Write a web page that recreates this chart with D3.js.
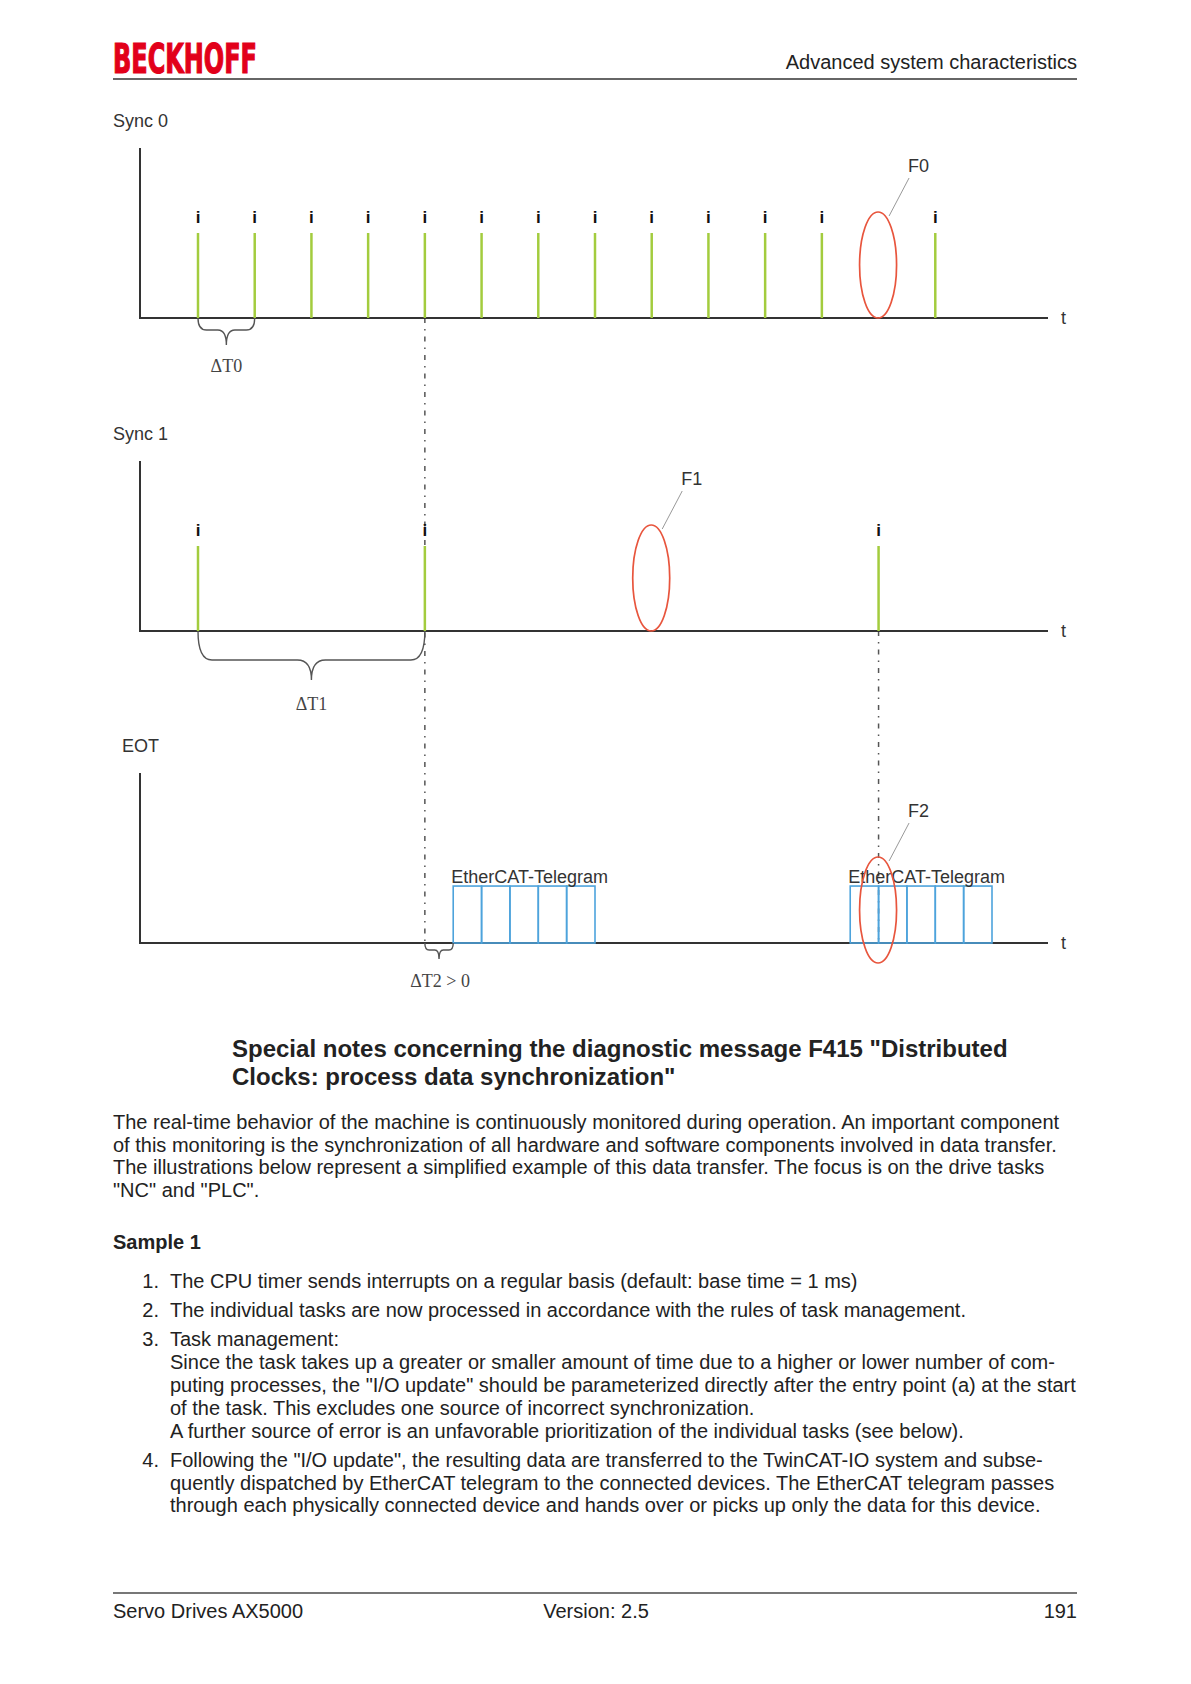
<!DOCTYPE html>
<html>
<head>
<meta charset="utf-8">
<script src="https://cdn.jsdelivr.net/npm/d3@7"></script>
<style>
body{margin:0;background:#fff;}
svg text{font-family:"Liberation Sans",Arial,sans-serif;fill:#222;}
.serif{font-family:"Liberation Serif","Times New Roman",serif !important;fill:#444 !important;}
</style>
</head>
<body>
<div id="pagina"></div>
<script>
// pulsos en unidades de deltaT0
var sync0Pulsos=[0,1,2,3,4,5,6,7,8,9,10,11,13];
var sync0Fallos=[12];
var sync1Pulsos=[0,4,12];
var sync1Fallos=[8];
var eotTelegramas=[4.5,11.5]; // inicio de cada telegrama
var eotCeldas=[0,1,2,3,4];    // 5 celdas de medio deltaT0
var eotFallos=[12];
var lineasGuia=[{x:4,desde:0,hasta:2},{x:12,desde:1,hasta:2}];
var paneles=["Sync 0","Sync 1","EOT"];
var etiquetasFallo=["F0","F1","F2"];
var llaves=[{panel:0,de:0,a:1,txt:"\u0394T0"},{panel:1,de:0,a:4,txt:"\u0394T1"},{panel:2,de:4,a:4.5,txt:"\u0394T2 > 0"}];

var textoIntro=[
"The real-time behavior of the machine is continuously monitored during operation. An important component",
"of this monitoring is the synchronization of all hardware and software components involved in data transfer.",
"The illustrations below represent a simplified example of this data transfer. The focus is on the drive tasks",
"\"NC\" and \"PLC\"."
];
var listaItems=[
["The CPU timer sends interrupts on a regular basis (default: base time = 1 ms)"],
["The individual tasks are now processed in accordance with the rules of task management."],
["Task management:",
 "Since the task takes up a greater or smaller amount of time due to a higher or lower number of com-",
 "puting processes, the \"I/O update\" should be parameterized directly after the entry point (a) at the start",
 "of the task. This excludes one source of incorrect synchronization.",
 "A further source of error is an unfavorable prioritization of the individual tasks (see below)."],
["Following the \"I/O update\", the resulting data are transferred to the TwinCAT-IO system and subse-",
 "quently dispatched by EtherCAT telegram to the connected devices. The EtherCAT telegram passes",
 "through each physically connected device and hands over or picks up only the data for this device."]
];

var svg=d3.select("#pagina").append("svg").attr("width",1191).attr("height",1684);

// cabecera
svg.append("text").attr("x",113).attr("y",73).text("BECKHOFF")
  .style("font-family","'Liberation Sans Narrow','DejaVu Sans Condensed',sans-serif")
  .style("font-weight","bold").style("font-size","40px").style("fill","#e2001a")
  .style("stroke","#e2001a").style("stroke-width","1.2px")
  .attr("textLength",144).attr("lengthAdjust","spacingAndGlyphs");
svg.append("text").attr("x",1077).attr("y",69).attr("text-anchor","end").style("font-size","20px").text("Advanced system characteristics");
svg.append("line").attr("x1",113).attr("x2",1077).attr("y1",79).attr("y2",79).attr("stroke","#333").attr("stroke-width",1.5);

var x=d3.scaleLinear().domain([0,14]).range([198,992]);
var ejes=[318,631,943];
var ys=ejes.map(function(e){return d3.scaleLinear().domain([0,2]).range([e,e-170]);});
var xIzq=140,xDer=1048;

// lineas guia punteadas
lineasGuia.forEach(function(g){
  svg.append("line").attr("x1",x(g.x)).attr("x2",x(g.x))
    .attr("y1",ejes[g.desde]).attr("y2",ejes[g.hasta])
    .attr("stroke","#555").attr("stroke-width",1.5).attr("stroke-dasharray","5,6,1.5,6");
});

function llave(x0,x1,y0,yh,yt){
  var xm=(x0+x1)/2, r=Math.min((x1-x0)*0.15,14);
  return "M"+x0+","+y0+" Q"+x0+","+yh+" "+(x0+r)+","+yh+" L"+(xm-r)+","+yh+
    " Q"+xm+","+yh+" "+xm+","+yt+" Q"+xm+","+yh+" "+(xm+r)+","+yh+
    " L"+(x1-r)+","+yh+" Q"+x1+","+yh+" "+x1+","+y0;
}

var posEtiq=[[113,127],[113,440],[122,752]];
paneles.forEach(function(nombre,i){
  var g=svg.append("g");
  g.append("text").attr("x",posEtiq[i][0]).attr("y",posEtiq[i][1]).style("font-size","18px").style("fill","#333").text(nombre);
  g.append("path").attr("d","M"+xIzq+","+(ejes[i]-170)+" L"+xIzq+","+ejes[i]+" L"+xDer+","+ejes[i])
    .attr("fill","none").attr("stroke","#333").attr("stroke-width",2);
  g.append("text").attr("x",1061).attr("y",ejes[i]+6).style("font-size","18px").style("fill","#333").text("t");
});

// pulsos
function pulsos(datos,i){
  var g=svg.append("g");
  g.selectAll("line").data(datos).enter().append("line")
    .attr("x1",function(d){return x(d);}).attr("x2",function(d){return x(d);})
    .attr("y1",ys[i](0)).attr("y2",ys[i](1))
    .attr("stroke","#a3cc3e").attr("stroke-width",2.5);
  g.selectAll("text").data(datos).enter().append("text")
    .attr("x",function(d){return x(d);}).attr("y",ys[i](1)-10)
    .attr("text-anchor","middle").style("font-size","17px").style("font-weight","bold").style("fill","#111").text("i");
}
pulsos(sync0Pulsos,0);
pulsos(sync1Pulsos,1);

// telegramas
eotTelegramas.forEach(function(t){
  var g=svg.append("g");
  g.selectAll("rect").data(eotCeldas).enter().append("rect")
    .attr("x",function(c){return x(t+c*0.5);}).attr("y",ys[2](0.67))
    .attr("width",x(0.5)-x(0)).attr("height",ys[2](0)-ys[2](0.67))
    .attr("fill","none").attr("stroke","#4da3dc").attr("stroke-width",1.6);
  g.append("text").attr("x",x(t)-2).attr("y",ys[2](0.67)-3).style("font-size","18px").style("fill","#333").text("EtherCAT-Telegram");
});

// fallos
var fallos=[sync0Fallos,sync1Fallos,eotFallos];
var bajoEje=[0,0,-20]; // distancia del borde inferior de la elipse al eje
fallos.forEach(function(f,i){
  f.forEach(function(d){
    var ry=53, rx=18.5, cx=x(d)-0.5, cy=ejes[i]-ry-bajoEje[i];
    svg.append("ellipse").attr("cx",cx).attr("cy",cy).attr("rx",rx).attr("ry",ry)
      .attr("fill","none").attr("stroke","#e8553d").attr("stroke-width",1.7);
    svg.append("line").attr("x1",cx+11).attr("y1",cy-ry+4).attr("x2",cx+31).attr("y2",cy-ry-34)
      .attr("stroke","#999").attr("stroke-width",1);
    svg.append("text").attr("x",cx+30).attr("y",cy-ry-40).style("font-size","18px").style("fill","#333").text(etiquetasFallo[i]);
  });
});

// llaves de intervalo
var profund=[[12,27],[29,49],[7,16]];
var posTxt=[372,710,987];
llaves.forEach(function(l){
  var e=ejes[l.panel], p=profund[l.panel];
  svg.append("path").attr("d",llave(x(l.de),x(l.a),e,e+p[0],e+p[1]))
    .attr("fill","none").attr("stroke","#555").attr("stroke-width",1.4);
  svg.append("text").attr("class","serif").attr("x",(x(l.de)+x(l.a))/2+(l.panel==2?1:0)).attr("y",posTxt[l.panel])
    .attr("text-anchor","middle").style("font-size","18px").text(l.txt);
});

// texto del documento
svg.append("text").attr("x",232).attr("y",1057).style("font-size","24px").style("font-weight","bold")
  .text("Special notes concerning the diagnostic message F415 \"Distributed");
svg.append("text").attr("x",232).attr("y",1085).style("font-size","24px").style("font-weight","bold")
  .text("Clocks: process data synchronization\"");
textoIntro.forEach(function(t,i){
  svg.append("text").attr("x",113).attr("y",1129+i*22.6).style("font-size","20px").text(t);
});
svg.append("text").attr("x",113).attr("y",1249).style("font-size","20px").style("font-weight","bold").text("Sample 1");

var yLinea=1288;
listaItems.forEach(function(item,i){
  svg.append("text").attr("x",159).attr("y",yLinea).attr("text-anchor","end").style("font-size","20px").text((i+1)+".");
  item.forEach(function(t,j){
    svg.append("text").attr("x",170).attr("y",yLinea).style("font-size","20px").text(t);
    yLinea+=22.9;
  });
  yLinea+=6.1;
});

// pie
svg.append("line").attr("x1",113).attr("x2",1077).attr("y1",1593).attr("y2",1593).attr("stroke","#777").attr("stroke-width",2);
svg.append("text").attr("x",113).attr("y",1618).style("font-size","20px").text("Servo Drives AX5000");
svg.append("text").attr("x",596).attr("y",1618).attr("text-anchor","middle").style("font-size","20px").text("Version: 2.5");
svg.append("text").attr("x",1077).attr("y",1618).attr("text-anchor","end").style("font-size","20px").text("191");
</script>
</body>
</html>
